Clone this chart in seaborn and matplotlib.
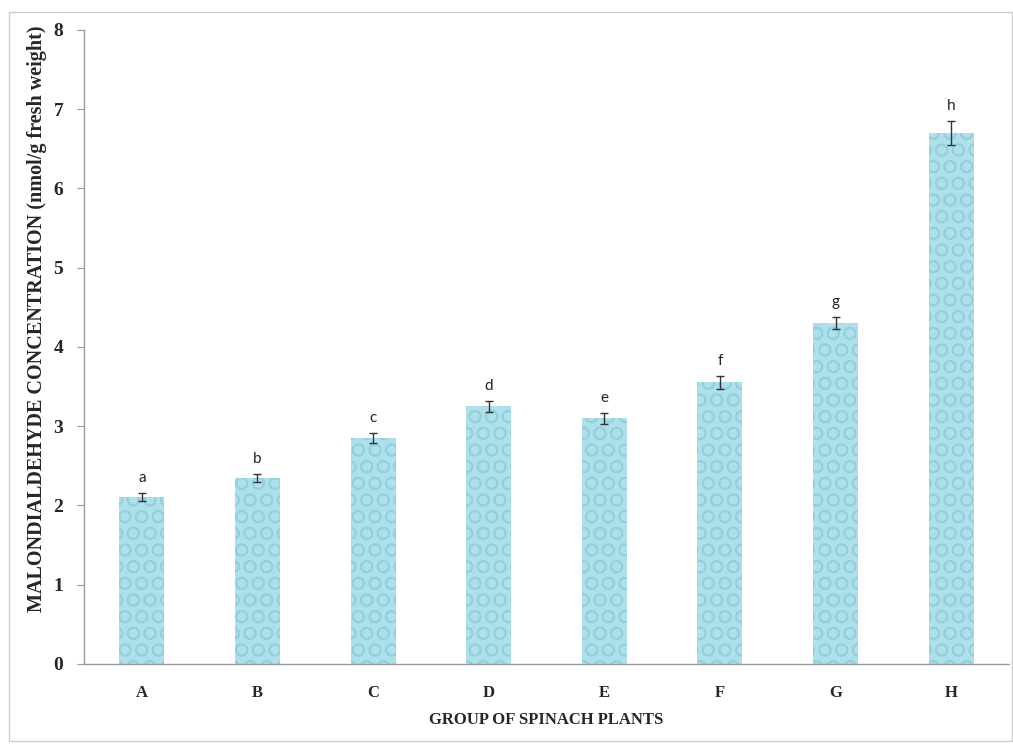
import numpy as np
import matplotlib
matplotlib.use('Agg')
import matplotlib.pyplot as plt
import seaborn as sns

groups = ['A', 'B', 'C', 'D', 'E', 'F', 'G', 'H']
mda = [2.10, 2.35, 2.85, 3.25, 3.10, 3.55, 4.30, 6.70]
sem = [0.05, 0.05, 0.06, 0.07, 0.07, 0.08, 0.08, 0.15]
letters = ['a', 'b', 'c', 'd', 'e', 'f', 'g', 'h']

sns.set_style('white')
plt.rcParams['font.family'] = ['Liberation Serif', 'DejaVu Serif']
plt.rcParams['hatch.linewidth'] = 1.2

fig = plt.figure(figsize=(10.13, 7.45), dpi=100)
ax = fig.add_axes([0.083, 0.109, 0.913, 0.851])

# droplet-like texture: light cyan face with a soft circular hatch
sns.barplot(x=groups, y=mda, ax=ax, color='#ade0ea', width=0.39,
            saturation=1, hatch='O', edgecolor='#93d0dd', linewidth=0)
ax.errorbar(np.arange(len(groups)), mda, yerr=sem, fmt='none',
            ecolor='#333333', elinewidth=1, capsize=3, capthick=1)
for i, (v, e, t) in enumerate(zip(mda, sem, letters)):
    ax.text(i, v + e + 0.1, t, ha='center', va='bottom', fontsize=11,
            family=['Lato', 'DejaVu Sans'], color='#222222')

ax.set_ylim(0, 8)
ax.set_xlim(-0.5, 7.5)
ax.set_yticks(range(9))
ax.set_yticklabels([str(i) for i in range(9)], fontsize=14, fontweight='bold')
ax.set_xticks(range(len(groups)))
ax.set_xticklabels(groups, fontsize=12, fontweight='bold')
ax.set_xticks(np.arange(-0.5, 8.0, 1.0), minor=True)
ax.tick_params(axis='x', which='major', length=0, pad=15)
ax.tick_params(axis='x', which='minor', length=5, color='#999999', direction='out')
ax.tick_params(axis='y', length=5, color='#999999', direction='out', left=True, pad=10)

ax.set_xlabel('GROUP OF SPINACH PLANTS', fontsize=12, fontweight='bold', labelpad=8)
ax.set_ylabel('MALONDIALDEHYDE CONCENTRATION (nmol/g fresh weight)',
              fontsize=14.5, fontweight='bold')
ax.yaxis.set_label_coords(-0.04, 0.544)

sns.despine(ax=ax)
for s in ['left', 'bottom']:
    ax.spines[s].set_color('#999999')
    ax.spines[s].set_linewidth(1)

border = plt.Rectangle((0.009, 0.005), 0.99, 0.979, transform=fig.transFigure,
                       fill=False, edgecolor='#cccccc', linewidth=1)
fig.patches.append(border)

fig.savefig('out.png', dpi=100)
